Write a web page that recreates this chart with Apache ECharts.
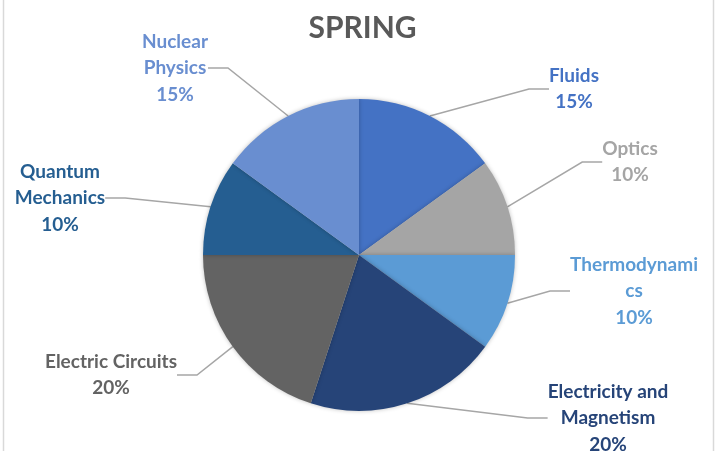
<!DOCTYPE html>
<html>
<head>
<meta charset="utf-8">
<script src="https://cdn.jsdelivr.net/npm/echarts@6/dist/echarts.min.js"></script>
<style>
  html, body { margin: 0; padding: 0; background: #fff; }
  #main { width: 725px; height: 451px; }
</style>
</head>
<body>
<div id="main"></div>
<script>
// 数据
var topics = ['Fluids', 'Optics', 'Thermodynamics', 'Electricity and Magnetism', 'Electric Circuits', 'Quantum Mechanics', 'Nuclear Physics'];
var shares = [15, 10, 10, 20, 20, 10, 15];
// 显示用的换行文字
var labelText = ['Fluids', 'Optics', 'Thermodynami\ncs', 'Electricity and\nMagnetism', 'Electric Circuits', 'Quantum\nMechanics', 'Nuclear\nPhysics'];

var colors = ['#4472C4', '#A5A5A5', '#5B9BD5', '#264478', '#636363', '#255E91', '#698ED0'];
// 标签中心位置 (x, y)
var labelPos = [[574, 89], [630, 162], [634, 291], [608, 418], [111, 375], [60, 198], [175, 68]];

var chart = echarts.init(document.getElementById('main'));

var option = {
    backgroundColor: '#fff',
    animation: false,
    title: {
        text: 'SPRING',
        left: 'center',
        top: 8,
        textStyle: {
            color: '#595959',
            fontFamily: 'Lato',
            fontSize: 30,
            fontWeight: 'bold'
        }
    },
    graphic: [{
        type: 'rect',
        shape: { x: 3.5, y: -10, width: 710, height: 480 },
        style: { fill: 'none', stroke: '#D9D9D9', lineWidth: 1.5 },
        silent: true
    }],
    series: [{
        type: 'pie',
        center: [359, 255],
        radius: 156,
        startAngle: 90,
        clockwise: true,
        data: topics.map(function (t, i) {
            return {
                name: t,
                value: shares[i],
                itemStyle: { color: colors[i] },
                label: { color: colors[i] }
            };
        }),
        itemStyle: {
            shadowBlur: 4,
            shadowColor: 'rgba(0,0,0,0.25)'
        },
        label: {
            show: true,
            position: 'outside',
            formatter: function (p) {
                return labelText[p.dataIndex] + '\n' + p.value + '%';
            },
            fontFamily: 'Lato',
            fontSize: 19,
            fontWeight: 'bold',
            lineHeight: 26.5,
            align: 'center'
        },
        labelLine: {
            show: true,
            length: 20,
            length2: 20,
            lineStyle: { color: '#A6A6A6', width: 1.5 }
        },
        labelLayout: function (params) {
            var p = labelPos[params.dataIndex];
            return {
                x: p[0],
                y: p[1],
                align: 'center',
                verticalAlign: 'middle'
            };
        }
    }]
};
chart.setOption(option);
</script>
</body>
</html>
